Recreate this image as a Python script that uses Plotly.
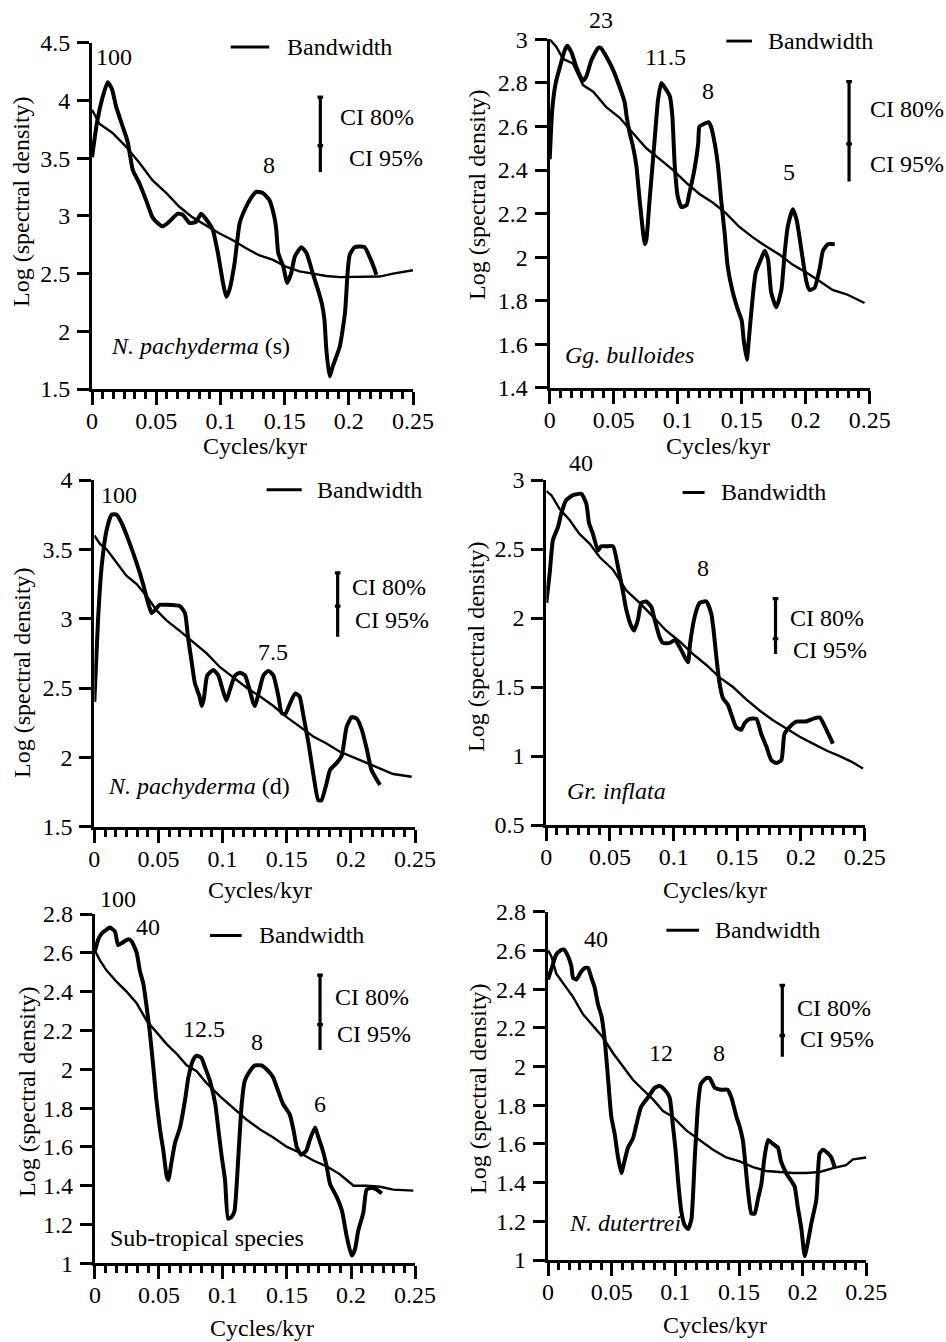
import plotly.graph_objects as go

W, H = 946, 1342
FONT = "Liberation Serif"

# ---------------- shared tick labels ----------------
freq_ticks = [0, 0.05, 0.1, 0.15, 0.2, 0.25]
freq_tick_text = ["0", "0.05", "0.1", "0.15", "0.2", "0.25"]
x_title = "Cycles/kyr"
y_title = "Log (spectral density)"

# ---------------- Panel 1: N. pachyderma (s) ----------------
p1_freq = [0, 0.004, 0.008, 0.0122, 0.0155, 0.0187, 0.0225, 0.0265, 0.028, 0.0317,
           0.037, 0.042, 0.047, 0.051, 0.055, 0.060, 0.0668, 0.0707, 0.076, 0.081,
           0.085, 0.089, 0.094, 0.098, 0.102, 0.1045, 0.107, 0.111, 0.115, 0.120,
           0.124, 0.128, 0.133, 0.138, 0.142, 0.1435, 0.145, 0.149, 0.152, 0.155,
           0.158, 0.163, 0.167, 0.172, 0.176, 0.179, 0.181, 0.1825, 0.185, 0.1876,
           0.193, 0.197, 0.199, 0.2006, 0.2045, 0.2123, 0.216, 0.220, 0.2214]
p1_logsd = [3.51, 3.82, 4.02, 4.16, 4.10, 3.95, 3.82, 3.69, 3.63, 3.40,
            3.28, 3.14, 2.99, 2.94, 2.91, 2.95, 3.02, 3.01, 2.94, 2.95,
            3.02, 2.97, 2.88, 2.68, 2.42, 2.30, 2.36, 2.59, 2.94, 3.08,
            3.16, 3.21, 3.20, 3.14, 2.99, 2.88, 2.68, 2.56, 2.42, 2.50,
            2.65, 2.73, 2.68, 2.50, 2.36, 2.24, 2.10, 1.84, 1.61, 1.70,
            1.87, 2.16, 2.50, 2.66, 2.73, 2.73, 2.65, 2.54, 2.49]
p1_bg_freq = [0, 0.0057, 0.016, 0.0265, 0.037, 0.047, 0.0577, 0.068, 0.078, 0.089,
              0.099, 0.1097, 0.120, 0.130, 0.141, 0.151, 0.1616, 0.172, 0.1824, 0.193,
              0.203, 0.2136, 0.224, 0.2344, 0.25]
p1_bg_logsd = [3.92, 3.80, 3.72, 3.60, 3.46, 3.31, 3.20, 3.08, 2.99, 2.92,
               2.85, 2.79, 2.72, 2.66, 2.62, 2.56, 2.52, 2.50, 2.48, 2.47,
               2.47, 2.47, 2.475, 2.50, 2.53]
p1_yticks = [1.5, 2, 2.5, 3, 3.5, 4, 4.5]
p1_ytick_text = ["1.5", "2", "2.5", "3", "3.5", "4", "4.5"]
p1_peak_text = ["100", "8"]
p1_peak_freq = [0.0174, 0.138]
p1_peak_logsd = [4.38, 3.44]
p1_bandwidth = [0.108, 0.138]
p1_ci = [4.03, 3.61, 3.38]   # top (80%), split, bottom (95%)
p1_species = "<i>N. pachyderma</i> (s)"

# ---------------- Panel 2: Gg. bulloides ----------------
p2_freq = [0, 0.002, 0.0047, 0.0078, 0.0117, 0.0138, 0.017, 0.021, 0.026, 0.0286,
           0.0326, 0.0378, 0.040, 0.0443, 0.0495, 0.0547, 0.0586, 0.060, 0.0625, 0.065,
           0.0677, 0.0703, 0.073, 0.0742, 0.0755, 0.078, 0.082, 0.0846, 0.0872, 0.0898,
           0.0938, 0.0958, 0.0977, 0.100, 0.103, 0.107, 0.109, 0.113, 0.116, 0.117,
           0.120, 0.124, 0.126, 0.129, 0.1315, 0.134, 0.1367, 0.139, 0.143, 0.147,
           0.150, 0.1516, 0.154, 0.156, 0.159, 0.161, 0.165, 0.168, 0.1706, 0.173,
           0.177, 0.181, 0.1836, 0.186, 0.190, 0.193, 0.197, 0.2005, 0.203, 0.207,
           0.211, 0.2135, 0.2174, 0.2227]
p2_logsd = [2.45, 2.68, 2.80, 2.87, 2.95, 2.97, 2.94, 2.87, 2.81, 2.83,
            2.905, 2.96, 2.96, 2.92, 2.86, 2.78, 2.71, 2.65, 2.57, 2.51,
            2.42, 2.26, 2.11, 2.06, 2.08, 2.26, 2.54, 2.72, 2.80, 2.78,
            2.74, 2.65, 2.42, 2.28, 2.23, 2.24, 2.29, 2.40, 2.52, 2.60,
            2.61, 2.62, 2.60, 2.52, 2.42, 2.26, 2.11, 1.96, 1.84, 1.76,
            1.71, 1.62, 1.53, 1.65, 1.84, 1.93, 1.99, 2.03, 1.99, 1.84,
            1.77, 1.85, 2.02, 2.14, 2.22, 2.17, 2.02, 1.89, 1.85, 1.86,
            1.95, 2.03, 2.06, 2.06]
p2_bg_freq = [0, 0.0052, 0.0104, 0.018, 0.026, 0.034, 0.044, 0.0547, 0.065, 0.0755,
              0.086, 0.0964, 0.107, 0.117, 0.1276, 0.138, 0.148, 0.159, 0.169, 0.180,
              0.190, 0.2005, 0.211, 0.221, 0.232, 0.246]
p2_bg_logsd = [3.0, 2.965, 2.91, 2.89, 2.79, 2.76, 2.69, 2.64, 2.57, 2.50,
               2.45, 2.40, 2.34, 2.29, 2.25, 2.20, 2.14, 2.09, 2.05, 2.01,
               1.965, 1.93, 1.89, 1.85, 1.83, 1.79]
p2_yticks = [1.4, 1.6, 1.8, 2.0, 2.2, 2.4, 2.6, 2.8, 3.0]
p2_ytick_text = ["1.4", "1.6", "1.8", "2", "2.2", "2.4", "2.6", "2.8", "3"]
p2_peak_text = ["23", "11.5", "8", "5"]
p2_peak_freq = [0.0398, 0.0906, 0.1237, 0.187]
p2_peak_logsd = [3.09, 2.92, 2.765, 2.39]
p2_bandwidth = [0.138, 0.158]
p2_ci = [2.806, 2.52, 2.347]
p2_species = "<i>Gg. bulloides</i>"

# ---------------- Panel 3: N. pachyderma (d) ----------------
p3_freq = [0, 0.003, 0.0057, 0.0096, 0.0135, 0.0174, 0.0213, 0.0265, 0.033, 0.038,
           0.042, 0.0447, 0.047, 0.051, 0.056, 0.0668, 0.0707, 0.073, 0.076, 0.0785,
           0.082, 0.0837, 0.0855, 0.088, 0.0928, 0.0967, 0.1006, 0.103, 0.1058, 0.1097,
           0.1136, 0.1175, 0.121, 0.124, 0.1253, 0.128, 0.1318, 0.1357, 0.1396, 0.1435,
           0.146, 0.1487, 0.1526, 0.1565, 0.160, 0.163, 0.167, 0.1707, 0.1746, 0.177,
           0.181, 0.1838, 0.189, 0.1928, 0.1967, 0.2006, 0.2045, 0.2085, 0.2124, 0.216,
           0.2227]
p3_logsd = [2.40, 3.01, 3.375, 3.64, 3.75, 3.75, 3.69, 3.57, 3.40, 3.25,
            3.11, 3.04, 3.06, 3.10, 3.10, 3.09, 3.04, 2.87, 2.68, 2.53,
            2.44, 2.37, 2.43, 2.59, 2.63, 2.59, 2.47, 2.41, 2.49, 2.59,
            2.61, 2.59, 2.49, 2.39, 2.37, 2.46, 2.59, 2.625, 2.59, 2.44,
            2.32, 2.31, 2.39, 2.46, 2.44, 2.30, 2.10, 1.88, 1.69, 1.69,
            1.81, 1.91, 1.96, 2.01, 2.22, 2.29, 2.28, 2.20, 2.06, 1.91,
            1.80]
p3_bg_freq = [0, 0.0044, 0.0096, 0.0174, 0.025, 0.033, 0.041, 0.0486, 0.056, 0.0668,
              0.077, 0.0876, 0.098, 0.108, 0.119, 0.129, 0.1396, 0.150, 0.160, 0.1707,
              0.181, 0.1915, 0.202, 0.2124, 0.2227, 0.233, 0.2474]
p3_bg_logsd = [3.60, 3.54, 3.50, 3.40, 3.31, 3.25, 3.16, 3.06, 2.99, 2.91,
               2.83, 2.75, 2.65, 2.58, 2.50, 2.44, 2.37, 2.29, 2.22, 2.15,
               2.10, 2.04, 2.00, 1.96, 1.92, 1.88, 1.86]
p3_yticks = [1.5, 2, 2.5, 3, 3.5, 4]
p3_ytick_text = ["1.5", "2", "2.5", "3", "3.5", "4"]
p3_peak_text = ["100", "7.5"]
p3_peak_freq = [0.0195, 0.1396]
p3_peak_logsd = [3.89, 2.76]
p3_bandwidth = [0.1343, 0.1617]
p3_ci = [3.33, 3.09, 2.87]
p3_species = "<i>N. pachyderma</i> (d)"

# ---------------- Panel 4: Gr. inflata ----------------
p4_freq = [0, 0.0026, 0.0052, 0.0092, 0.0118, 0.0157, 0.021, 0.0275, 0.0314, 0.0335,
           0.0366, 0.0406, 0.043, 0.047, 0.0524, 0.0563, 0.060, 0.0628, 0.0668, 0.069,
           0.072, 0.0746, 0.0785, 0.0825, 0.085, 0.089, 0.0916, 0.097, 0.1008, 0.1047,
           0.1086, 0.1113, 0.113, 0.1165, 0.1204, 0.1257, 0.1296, 0.1314, 0.1335, 0.136,
           0.1387, 0.1427, 0.145, 0.149, 0.153, 0.1558, 0.1597, 0.165, 0.1688, 0.1728,
           0.1767, 0.1806, 0.1846, 0.187, 0.191, 0.1963, 0.204, 0.2094, 0.2147, 0.220,
           0.2251]
p4_logsd = [2.11, 2.32, 2.565, 2.66, 2.76, 2.855, 2.89, 2.90, 2.83, 2.69,
            2.61, 2.49, 2.52, 2.52, 2.52, 2.37, 2.20, 2.06, 1.94, 1.91,
            1.99, 2.11, 2.12, 2.08, 1.99, 1.86, 1.82, 1.82, 1.84, 1.79,
            1.72, 1.68, 1.82, 2.01, 2.11, 2.12, 2.03, 1.91, 1.72, 1.53,
            1.42, 1.37, 1.31, 1.21, 1.19, 1.24, 1.27, 1.27, 1.16, 1.07,
            0.97, 0.95, 0.97, 1.16, 1.21, 1.25, 1.25, 1.27, 1.28, 1.19,
            1.09]
p4_bg_freq = [0, 0.004, 0.0105, 0.0183, 0.026, 0.034, 0.042, 0.0524, 0.0628, 0.0733,
              0.0838, 0.094, 0.1047, 0.115, 0.1257, 0.136, 0.1466, 0.157, 0.1675, 0.178,
              0.1885, 0.199, 0.2094, 0.220, 0.2304, 0.2395, 0.2487]
p4_bg_logsd = [2.92, 2.89, 2.79, 2.71, 2.61, 2.54, 2.44, 2.35, 2.20, 2.11,
               2.01, 1.91, 1.83, 1.74, 1.66, 1.57, 1.50, 1.41, 1.33, 1.26,
               1.20, 1.14, 1.09, 1.04, 1.00, 0.96, 0.91]
p4_yticks = [0.5, 1, 1.5, 2, 2.5, 3]
p4_ytick_text = ["0.5", "1", "1.5", "2", "2.5", "3"]
p4_peak_text = ["40", "8"]
p4_peak_freq = [0.0275, 0.123]
p4_peak_logsd = [3.12, 2.36]
p4_bandwidth = [0.107, 0.1243]
p4_ci = [2.14, 1.85, 1.74]
p4_species = "<i>Gr. inflata</i>"

# ---------------- Panel 5: Sub-tropical species ----------------
p5_freq = [0, 0.0026, 0.0052, 0.009, 0.0117, 0.0156, 0.018, 0.0208, 0.026, 0.0286,
           0.0326, 0.035, 0.0378, 0.0404, 0.043, 0.0456, 0.048, 0.0508, 0.0534, 0.056,
           0.0573, 0.060, 0.0625, 0.0664, 0.0703, 0.073, 0.0768, 0.0794, 0.083, 0.086,
           0.0898, 0.094, 0.0964, 0.099, 0.1016, 0.104, 0.1068, 0.109, 0.112, 0.1146,
           0.117, 0.121, 0.125, 0.130, 0.134, 0.139, 0.143, 0.147, 0.152, 0.155,
           0.1576, 0.161, 0.165, 0.168, 0.172, 0.1745, 0.178, 0.181, 0.1836, 0.189,
           0.193, 0.1966, 0.2005, 0.203, 0.2057, 0.2096, 0.2122, 0.216, 0.220, 0.224]
p5_logsd = [2.61, 2.67, 2.70, 2.72, 2.73, 2.71, 2.64, 2.65, 2.67, 2.66,
            2.60, 2.51, 2.44, 2.32, 2.18, 2.01, 1.84, 1.69, 1.58, 1.45,
            1.43, 1.53, 1.62, 1.70, 1.84, 1.96, 2.05, 2.07, 2.06, 2.01,
            1.94, 1.82, 1.69, 1.55, 1.43, 1.23, 1.24, 1.27, 1.55, 1.82,
            1.94, 1.99, 2.02, 2.02, 2.00, 1.96, 1.89, 1.82, 1.77, 1.69,
            1.60, 1.56, 1.58, 1.64, 1.70, 1.65, 1.58, 1.50, 1.41, 1.34,
            1.27, 1.14, 1.04, 1.07, 1.17, 1.26, 1.38, 1.39, 1.38, 1.36]
p5_bg_freq = [0, 0.004, 0.009, 0.017, 0.0247, 0.0326, 0.0404, 0.048, 0.056, 0.0638,
              0.0716, 0.0794, 0.087, 0.0977, 0.108, 0.1185, 0.129, 0.139, 0.150, 0.160,
              0.1706, 0.181, 0.191, 0.202, 0.212, 0.2227, 0.233, 0.2487]
p5_bg_logsd = [2.61, 2.56, 2.51, 2.45, 2.40, 2.34, 2.25, 2.19, 2.13, 2.08,
               2.02, 1.99, 1.93, 1.86, 1.80, 1.74, 1.69, 1.65, 1.60, 1.57,
               1.53, 1.50, 1.46, 1.40, 1.40, 1.395, 1.38, 1.375]
p5_yticks = [1, 1.2, 1.4, 1.6, 1.8, 2, 2.2, 2.4, 2.6, 2.8]
p5_ytick_text = ["1", "1.2", "1.4", "1.6", "1.8", "2", "2.2", "2.4", "2.6", "2.8"]
p5_peak_text = ["100", "40", "12.5", "8", "6"]
p5_peak_freq = [0.018, 0.0417, 0.0854, 0.1263, 0.1758]
p5_peak_logsd = [2.88, 2.735, 2.21, 2.14, 1.82]
p5_bandwidth = [0.0898, 0.1146]
p5_ci = [2.485, 2.23, 2.10]
p5_species = "Sub-tropical species"

# ---------------- Panel 6: N. dutertrei ----------------
p6_freq = [0, 0.0039, 0.0065, 0.0097, 0.0123, 0.0157, 0.0183, 0.0196, 0.0223, 0.026,
           0.029, 0.0314, 0.034, 0.0366, 0.0393, 0.042, 0.0445, 0.047, 0.0497, 0.0524,
           0.055, 0.0576, 0.060, 0.0628, 0.0668, 0.0694, 0.073, 0.0785, 0.0838, 0.0877,
           0.0916, 0.0955, 0.098, 0.1003, 0.102, 0.1047, 0.1073, 0.110, 0.1126, 0.1152,
           0.1178, 0.120, 0.1243, 0.127, 0.131, 0.136, 0.141, 0.144, 0.148, 0.1505,
           0.153, 0.1545, 0.157, 0.1597, 0.1623, 0.165, 0.1675, 0.170, 0.1728, 0.1767,
           0.1806, 0.183, 0.187, 0.191, 0.1937, 0.196, 0.199, 0.2016, 0.204, 0.2068,
           0.2107, 0.2133, 0.216, 0.220, 0.2225, 0.2251]
p6_logsd = [2.45, 2.53, 2.58, 2.60, 2.605, 2.57, 2.52, 2.46, 2.45, 2.49,
            2.51, 2.51, 2.46, 2.41, 2.32, 2.26, 2.14, 1.95, 1.74, 1.65,
            1.53, 1.45, 1.51, 1.58, 1.63, 1.70, 1.79, 1.84, 1.89, 1.90,
            1.88, 1.84, 1.70, 1.56, 1.42, 1.25, 1.18, 1.16, 1.21, 1.52,
            1.80, 1.91, 1.94, 1.94, 1.89, 1.88, 1.88, 1.84, 1.74, 1.69,
            1.62, 1.53, 1.36, 1.24, 1.24, 1.32, 1.39, 1.53, 1.62, 1.60,
            1.58, 1.51, 1.45, 1.41, 1.38, 1.28, 1.16, 1.02, 1.09, 1.19,
            1.31, 1.55, 1.57, 1.55, 1.53, 1.48]
p6_bg_freq = [0, 0.0026, 0.0065, 0.0118, 0.0196, 0.0275, 0.0353, 0.0432, 0.051, 0.0589,
              0.0668, 0.0746, 0.0825, 0.0903, 0.098, 0.1086, 0.119, 0.1296, 0.140, 0.1505,
              0.161, 0.1715, 0.182, 0.1924, 0.203, 0.2133, 0.2238, 0.234, 0.2395, 0.25]
p6_bg_logsd = [2.60, 2.57, 2.48, 2.43, 2.36, 2.27, 2.21, 2.15, 2.07, 2.00,
               1.93, 1.88, 1.83, 1.77, 1.74, 1.67, 1.62, 1.57, 1.53, 1.51,
               1.48, 1.46, 1.455, 1.45, 1.45, 1.455, 1.475, 1.49, 1.52, 1.53]
p6_yticks = [1, 1.2, 1.4, 1.6, 1.8, 2, 2.2, 2.4, 2.6, 2.8]
p6_ytick_text = ["1", "1.2", "1.4", "1.6", "1.8", "2", "2.2", "2.4", "2.6", "2.8"]
p6_peak_text = ["40", "12", "8"]
p6_peak_freq = [0.038, 0.0885, 0.134]
p6_peak_logsd = [2.66, 2.07, 2.07]
p6_bandwidth = [0.093, 0.1186]
p6_ci = [2.42, 2.16, 2.05]
p6_species = "<i>N. dutertrei</i>"

# ---------------- layout (positions, not data) ----------------
panels = [
    dict(x=p1_freq, y=p1_logsd, bx=p1_bg_freq, by=p1_bg_logsd, yr=[1.5, 4.5],
         yt=p1_yticks, ytt=p1_ytick_text, pt=p1_peak_text, px=p1_peak_freq, py=p1_peak_logsd,
         bw=p1_bandwidth, bw_y=4.465, bw_tx=0.150, ci=p1_ci, ci_x=0.1778,
         c80=(0.1915, 3.86), c95=(0.1985, 3.50), sp=p1_species, sp_xy=(0.0135, 1.87),
         dx=(0.0973, 0.4366), dy=(0.7101, 0.9680),
         ytitle=(21, 202), xtitle=(255, 446)),
    dict(x=p2_freq, y=p2_logsd, bx=p2_bg_freq, by=p2_bg_logsd, yr=[1.4, 3.0],
         yt=p2_yticks, ytt=p2_ytick_text, pt=p2_peak_text, px=p2_peak_freq, py=p2_peak_logsd,
         bw=p2_bandwidth, bw_y=2.992, bw_tx=0.169, ci=p2_ci, ci_x=0.2339,
         c80=(0.2487, 2.68), c95=(0.2487, 2.43), sp=p2_species, sp_xy=(0.0104, 1.55),
         dx=(0.5811, 0.9193), dy=(0.7109, 0.9707),
         ytitle=(477, 195), xtitle=(718, 446)),
    dict(x=p3_freq, y=p3_logsd, bx=p3_bg_freq, by=p3_bg_logsd, yr=[1.5, 4.0],
         yt=p3_yticks, ytt=p3_ytick_text, pt=p3_peak_text, px=p3_peak_freq, py=p3_peak_logsd,
         bw=p3_bandwidth, bw_y=3.93, bw_tx=0.172, ci=p3_ci, ci_x=0.1897,
         c80=(0.1993, 3.23), c95=(0.202, 2.99), sp=p3_species, sp_xy=(0.0091, 1.79),
         dx=(0.0997, 0.4387), dy=(0.3840, 0.6423),
         ytitle=(22, 673), xtitle=(260, 890)),
    dict(x=p4_freq, y=p4_logsd, bx=p4_bg_freq, by=p4_bg_logsd, yr=[0.5, 3.0],
         yt=p4_yticks, ytt=p4_ytick_text, pt=p4_peak_text, px=p4_peak_freq, py=p4_peak_logsd,
         bw=p4_bandwidth, bw_y=2.91, bw_tx=0.136, ci=p4_ci, ci_x=0.180,
         c80=(0.1898, 2.0), c95=(0.1924, 1.77), sp=p4_species, sp_xy=(0.0144, 0.75),
         dx=(0.5775, 0.9140), dy=(0.3852, 0.6423),
         ytitle=(476, 647), xtitle=(715, 890)),
    dict(x=p5_freq, y=p5_logsd, bx=p5_bg_freq, by=p5_bg_logsd, yr=[1.0, 2.8],
         yt=p5_yticks, ytt=p5_ytick_text, pt=p5_peak_text, px=p5_peak_freq, py=p5_peak_logsd,
         bw=p5_bandwidth, bw_y=2.69, bw_tx=0.1263, ci=p5_ci, ci_x=0.1758,
         c80=(0.1862, 2.37), c95=(0.1875, 2.18), sp=p5_species, sp_xy=(0.0104, 1.13),
         dx=(0.1004, 0.4387), dy=(0.0586, 0.3189),
         ytitle=(27, 1092), xtitle=(262, 1328)),
    dict(x=p6_freq, y=p6_logsd, bx=p6_bg_freq, by=p6_bg_logsd, yr=[1.0, 2.8],
         yt=p6_yticks, ytt=p6_ytick_text, pt=p6_peak_text, px=p6_peak_freq, py=p6_peak_logsd,
         bw=p6_bandwidth, bw_y=2.705, bw_tx=0.1296, ci=p6_ci, ci_x=0.184,
         c80=(0.1937, 2.30), c95=(0.1963, 2.14), sp=p6_species, sp_xy=(0.015, 1.19),
         dx=(0.5793, 0.9158), dy=(0.0611, 0.3206),
         ytitle=(478, 1088), xtitle=(715, 1325)),
]

FS = 24
TF = dict(size=FS, family=FONT, color="black")
fig = go.Figure()
annotations = []
layout_axes = {}

for i, p in enumerate(panels, start=1):
    assert len(p["x"]) == len(p["y"]), f"panel {i} main length mismatch"
    assert len(p["bx"]) == len(p["by"]), f"panel {i} bg length mismatch"
    xa = "x" if i == 1 else f"x{i}"
    ya = "y" if i == 1 else f"y{i}"
    y0, y1 = p["yr"]

    def yfrac(v):
        # value -> fraction of the y-axis domain (lets labels sit above the axis top)
        return (v - y0) / (y1 - y0)

    common = dict(xaxis=xa, yaxis=ya, showlegend=False, hoverinfo="skip", mode="lines")
    # background (red-noise) spectrum
    fig.add_trace(go.Scatter(x=p["bx"], y=p["by"], line=dict(color="black", width=2.4), **common))
    # estimated spectrum
    fig.add_trace(go.Scatter(x=p["x"], y=p["y"],
                             line=dict(color="black", width=4, shape="spline", smoothing=0.5),
                             **common))
    # bandwidth bar
    fig.add_trace(go.Scatter(x=p["bw"], y=[p["bw_y"], p["bw_y"]],
                             line=dict(color="black", width=3), **common))
    # confidence interval bar
    top, mid, bot = p["ci"]
    cx = p["ci_x"]
    c = 0.0022
    fig.add_trace(go.Scatter(x=[cx, cx, None, cx - c, cx + c, None, cx - c, cx + c],
                             y=[top, bot, None, top, top, None, mid, mid],
                             line=dict(color="black", width=3.2), **common))
    yd = f"{ya} domain"
    # texts anchored to data x, axis-domain y
    for t, tx, ty in zip(p["pt"], p["px"], p["py"]):
        annotations.append(dict(x=tx, y=yfrac(ty), xref=xa, yref=yd, text=t, showarrow=False,
                                xanchor="center", yanchor="middle", font=TF))
    annotations.append(dict(x=p["bw_tx"], y=yfrac(p["bw_y"]), xref=xa, yref=yd, text="Bandwidth",
                            showarrow=False, xanchor="left", yanchor="middle", font=TF))
    annotations.append(dict(x=p["c80"][0], y=yfrac(p["c80"][1]), xref=xa, yref=yd, text="CI 80%",
                            showarrow=False, xanchor="left", yanchor="middle", font=TF))
    annotations.append(dict(x=p["c95"][0], y=yfrac(p["c95"][1]), xref=xa, yref=yd, text="CI 95%",
                            showarrow=False, xanchor="left", yanchor="middle", font=TF))
    annotations.append(dict(x=p["sp_xy"][0], y=yfrac(p["sp_xy"][1]), xref=xa, yref=yd, text=p["sp"],
                            showarrow=False, xanchor="left", yanchor="middle", font=TF))
    # axis titles (paper coords from pixel positions)
    tx_, ty_ = p["ytitle"]
    annotations.append(dict(x=tx_ / W, y=1 - ty_ / H, xref="paper", yref="paper", text=y_title,
                            textangle=-90, showarrow=False, xanchor="center", yanchor="middle",
                            font=TF))
    tx_, ty_ = p["xtitle"]
    annotations.append(dict(x=tx_ / W, y=1 - ty_ / H, xref="paper", yref="paper", text=x_title,
                            showarrow=False, xanchor="center", yanchor="middle", font=TF))

    xkey = "xaxis" if i == 1 else f"xaxis{i}"
    ykey = "yaxis" if i == 1 else f"yaxis{i}"
    layout_axes[xkey] = dict(
        domain=list(p["dx"]), anchor=ya, range=[0, 0.25], automargin=False,
        showline=True, linewidth=3.2, linecolor="black", mirror=False,
        showgrid=False, zeroline=False,
        ticks="outside", ticklen=13, tickwidth=3, tickcolor="black",
        tickvals=freq_ticks, ticktext=freq_tick_text,
        tickfont=TF, ticklabelstandoff=-5,
        minor=dict(ticks="outside", ticklen=7, tickwidth=3, tickcolor="black",
                   dtick=0.05 / 6, tick0=0, showgrid=False),
        fixedrange=True,
    )
    layout_axes[ykey] = dict(
        domain=list(p["dy"]), anchor=xa, range=p["yr"], automargin=False,
        showline=True, linewidth=3.2, linecolor="black", mirror=False,
        showgrid=False, zeroline=False,
        ticks="outside", ticklen=12, tickwidth=3, tickcolor="black",
        tickvals=p["yt"], ticktext=p["ytt"],
        tickfont=TF, ticklabelstandoff=2,
        fixedrange=True,
    )

fig.update_layout(
    width=W, height=H, margin=dict(l=0, r=0, t=0, b=0, pad=0, autoexpand=False),
    paper_bgcolor="white", plot_bgcolor="white",
    font=dict(family=FONT, color="black", size=FS),
    annotations=annotations,
    **layout_axes,
)

fig.write_html("out.html")
